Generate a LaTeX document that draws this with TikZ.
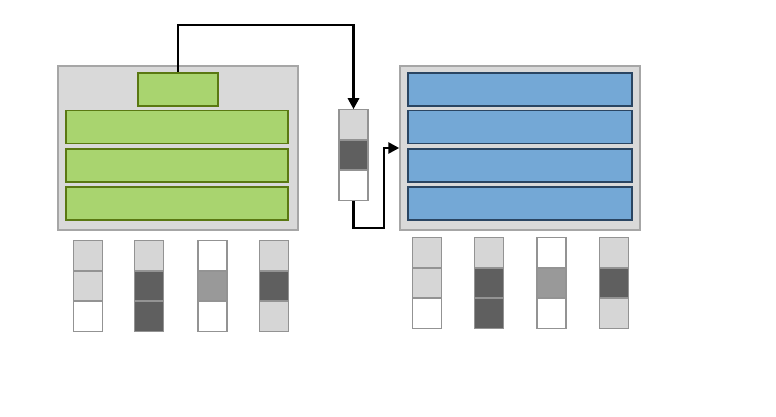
\documentclass[tikz,border=0pt]{standalone}
\usetikzlibrary{positioning,arrows.meta}
\definecolor{panelgray}{HTML}{D9D9D9}
\definecolor{paneledge}{HTML}{A6A6A6}
\definecolor{leafgreen}{HTML}{A9D46F}
\definecolor{leafedge}{HTML}{5A7812}
\definecolor{skyblue}{HTML}{74A8D6}
\definecolor{skyedge}{HTML}{2A4562}
\definecolor{celllight}{HTML}{D6D6D6}
\definecolor{cellmid}{HTML}{999999}
\definecolor{celldark}{HTML}{5F5F5F}
\tikzset{
  panel/.style={draw=paneledge, fill=panelgray, line width=1.5pt, minimum width=240pt, minimum height=164pt, inner sep=0pt},
  greenbar/.style={draw=leafedge, fill=leafgreen, line width=1.8pt, minimum width=222pt, minimum height=33pt, inner sep=0pt},
  bluebar/.style={draw=skyedge, fill=skyblue, line width=1.8pt, minimum width=224pt, minimum height=33pt, inner sep=0pt},
  cell/.style={draw=gray!85, line width=1.2pt, minimum width=29pt, minimum height=29.3pt, inner sep=0pt},
  flow/.style={line width=2.8pt, -{Triangle[length=11pt,width=11pt]}}
}
\begin{document}
\begin{tikzpicture}[x=1pt,y=-1pt]
  \useasboundingbox (0,0) rectangle (776,417);
  % left panel with green bars
  \node[panel] (lpanel) at (178,148) {};
  \node[greenbar, minimum width=80pt] (head) at (178,89.5) {};
  \node[greenbar] (gA) at (177,127) {};
  \node[greenbar] (gB) at (177,165.5) {};
  \node[greenbar] (gC) at (177,203.5) {};
  % right panel with blue bars
  \node[panel] (rpanel) at (520,148) {};
  \node[bluebar] (bA) at (520,89.5) {};
  \node[bluebar] (bB) at (520,127) {};
  \node[bluebar] (bC) at (520,165.5) {};
  \node[bluebar] (bD) at (520,203.5) {};
  % middle column
  \node[cell, fill=celllight] (mTop) at (353.5,124.5) {};
  \node[cell, fill=celldark, below=0pt of mTop] (mMid) {};
  \node[cell, fill=white, below=0pt of mMid] (mBot) {};
  % columns under the panels
  \foreach \x/\a/\b/\c [count=\i] in {88/celllight/celllight/white, 149/celllight/celldark/celldark,
      212.5/white/cellmid/white, 274/celllight/celldark/celllight} {
    \node[cell, fill=\a] (l\i top) at (\x,255.5) {};
    \node[cell, fill=\b, below=0pt of l\i top] (l\i mid) {};
    \node[cell, fill=\c, below=0pt of l\i mid] (l\i bot) {};
  }
  \foreach \x/\a/\b/\c [count=\i] in {427/celllight/celllight/white, 489/celllight/celldark/celldark,
      551.5/white/cellmid/white, 614/celllight/celldark/celllight} {
    \node[cell, fill=\a] (r\i top) at (\x,252.5) {};
    \node[cell, fill=\b, below=0pt of r\i top] (r\i mid) {};
    \node[cell, fill=\c, below=0pt of r\i mid] (r\i bot) {};
  }
  % arrows
  \coordinate (up) at (178,25);
  \coordinate (turn) at (384,228);
  \coordinate (inR) at (rpanel.west |- 0,148);
  \draw[flow] (head.north) -- (up) -| (mTop.north);
  \draw[flow] (mBot.south) |- (turn) |- (inR);
\end{tikzpicture}
\end{document}
